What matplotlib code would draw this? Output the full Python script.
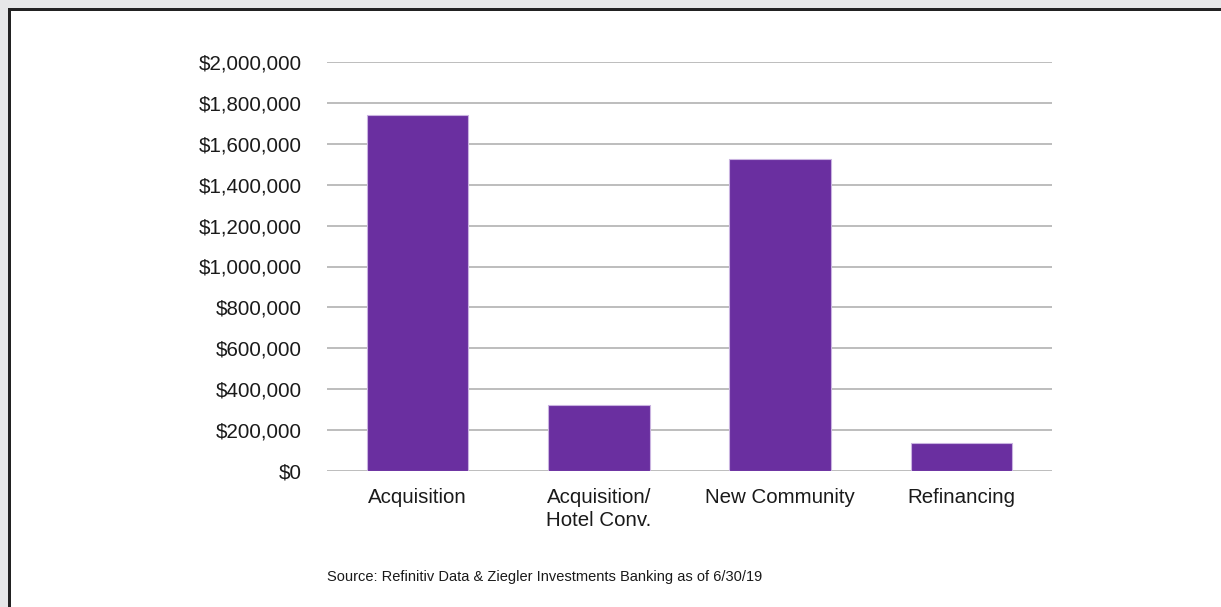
import numpy as np
import matplotlib.pyplot as plt
from matplotlib.ticker import FuncFormatter
from matplotlib.patches import Rectangle

plt.rcParams['font.family'] = ['Liberation Sans', 'DejaVu Sans']

categories = ["Acquisition", "Acquisition/\nHotel Conv.", "New Community", "Refinancing"]
values = [1740000, 323000, 1525000, 137000]
source = "Source: Refinitiv Data & Ziegler Investments Banking as of 6/30/19"

BAR_COLOR = "#6a2fa0"
GRID_COLOR = "#bdbdbd"


def main() -> None:
    fig = plt.figure(figsize=(12.21, 6.07), dpi=100)
    fig.patch.set_facecolor("white")

    # page frame: grey margin on the top/left and a dark border line
    fig.patches.append(Rectangle((0, 0), 1, 1, transform=fig.transFigure,
                                 facecolor="#e6e7e8", edgecolor="none", zorder=-3))
    fig.patches.append(Rectangle((8 / 1221, -0.1), 1.1, 1 - 8 / 607 + 0.1,
                                 transform=fig.transFigure, facecolor="#222222",
                                 edgecolor="none", zorder=-2))
    fig.patches.append(Rectangle((11 / 1221, -0.1), 1.1, 1 - 11 / 607 + 0.1,
                                 transform=fig.transFigure, facecolor="white",
                                 edgecolor="none", zorder=-1))

    ax = fig.add_axes([327 / 1221, 1 - 471 / 607, (1052 - 327) / 1221, (471 - 62) / 607])
    ax.set_facecolor("none")
    x = np.arange(len(categories))
    ax.bar(x, values, width=0.56, color=BAR_COLOR, edgecolor="#c9b3e0",
           linewidth=0.8, zorder=3)

    ax.set_xlim(-0.5, len(categories) - 0.5)
    ax.set_ylim(0, 2000000)
    ax.set_yticks(np.arange(0, 2000001, 200000))
    ax.yaxis.set_major_formatter(FuncFormatter(lambda v, p: f"${v:,.0f}"))
    ax.set_xticks(x)
    ax.set_xticklabels(categories, fontsize=14.8, color="#1a1a1a", linespacing=1.3)
    ax.tick_params(axis="y", length=0, pad=18, labelsize=14.8, labelcolor="#1a1a1a")
    ax.tick_params(axis="x", length=0, pad=12)
    ax.grid(axis="y", color=GRID_COLOR, linewidth=1.4, zorder=0)
    for s in ax.spines.values():
        s.set_visible(False)

    fig.text(327 / 1221, 1 - 577 / 607, source, fontsize=10.5, color="#1a1a1a",
             va="center", ha="left")

    fig.savefig("out.png", dpi=100)


if __name__ == "__main__":
    main()
